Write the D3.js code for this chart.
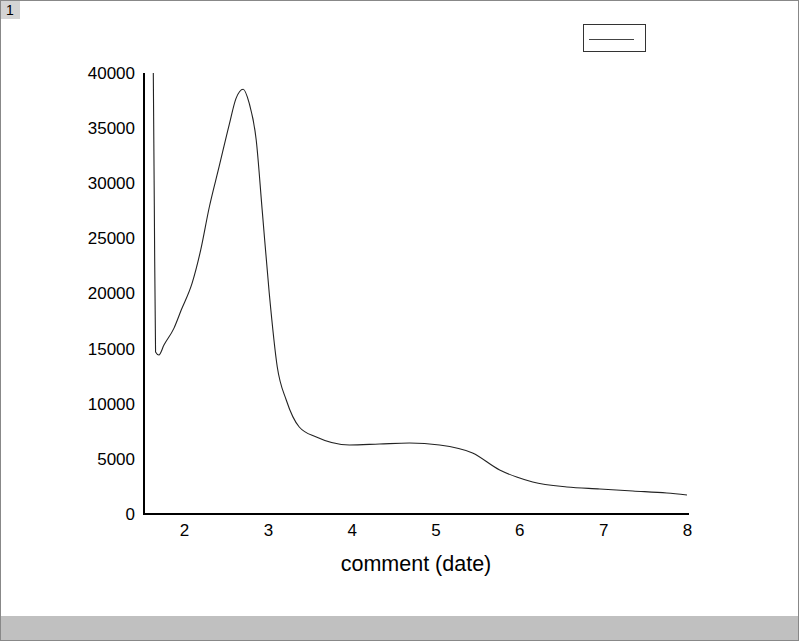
<!DOCTYPE html>
<html><head><meta charset="utf-8">
<script src="https://cdn.jsdelivr.net/npm/d3@7"></script>
<style>body{margin:0;background:#fff}svg{display:block}</style>
</head><body>
<script>
const xValues = [1.633,1.645,1.66,1.70,1.76,1.88,1.966,2.096,2.20,2.30,2.418,2.538,2.62,2.705,2.777,2.861,2.932,3.016,3.112,3.219,3.374,3.578,3.972,4.33,4.689,5.048,5.442,5.765,5.968,6.159,6.566,6.96,7.354,7.76,8.0];
const yValues = [40000,28000,14700,14420,15320,16860,18500,20940,24000,27800,31500,35300,37700,38530,37260,33900,27560,20040,13330,10340,7890,6980,6260,6350,6440,6260,5530,3990,3350,2900,2450,2270,2085,1900,1720];
const xTicks = [2,3,4,5,6,7,8];
const yTicks = [0,5000,10000,15000,20000,25000,30000,35000,40000];
const xLabel = "comment (date)";
const panelLabel = "1";

const W=800,H=642;
const svg=d3.select("body").append("svg").attr("width",W).attr("height",H);
// frame
svg.append("rect").attr("x",0.5).attr("y",0.5).attr("width",798).attr("height",640).attr("fill","#fff").attr("stroke","#888");
svg.append("rect").attr("x",1).attr("y",616).attr("width",797).attr("height",24).attr("fill","#c0c0c0");
svg.append("rect").attr("x",1).attr("y",1).attr("width",19).attr("height",18).attr("fill","#d4d4d4");
svg.append("text").attr("x",10).attr("y",15).attr("text-anchor","middle").attr("font-family","Liberation Sans, Arial, sans-serif").attr("font-size",14).text(panelLabel);

const x=d3.scaleLinear().domain([1.522,8]).range([144,687]);
const y=d3.scaleLinear().domain([0,40000]).range([514,73]);
const font="Liberation Sans, Arial, sans-serif";

const xa=svg.append("g").attr("transform","translate(0,514)").call(d3.axisBottom(x).tickValues(xTicks).tickSize(0).tickPadding(10).tickFormat(d3.format("d")));
xa.select(".domain").attr("stroke","#000").attr("stroke-width",2).attr("d","M144,0H689");
xa.selectAll("text").attr("font-family",font).attr("font-size",17).attr("fill","#000");
const ya=svg.append("g").attr("transform","translate(144,0)").call(d3.axisLeft(y).tickValues(yTicks).tickSize(0).tickPadding(9).tickFormat(d3.format("d")));
ya.select(".domain").attr("stroke","#000").attr("stroke-width",2).attr("d","M0,73V515");
ya.selectAll("text").attr("font-family",font).attr("font-size",17).attr("fill","#000");

svg.append("text").attr("x",416).attr("y",571).attr("text-anchor","middle").attr("font-family",font).attr("font-size",21.5).text(xLabel);

const data=xValues.map((v,i)=>[v,yValues[i]]);
svg.append("path").datum(data).attr("fill","none").attr("stroke","#222").attr("stroke-width",1.1)
  .attr("d",d3.line().x(d=>x(d[0])).y(d=>y(d[1])).curve(d3.curveMonotoneX));

// legend
svg.append("rect").attr("x",583.5).attr("y",24.5).attr("width",62).attr("height",27).attr("fill","#fff").attr("stroke","#333");
svg.append("line").attr("x1",589).attr("x2",634).attr("y1",39.5).attr("y2",39.5).attr("stroke","#444").attr("stroke-width",1);
</script>
</body></html>
